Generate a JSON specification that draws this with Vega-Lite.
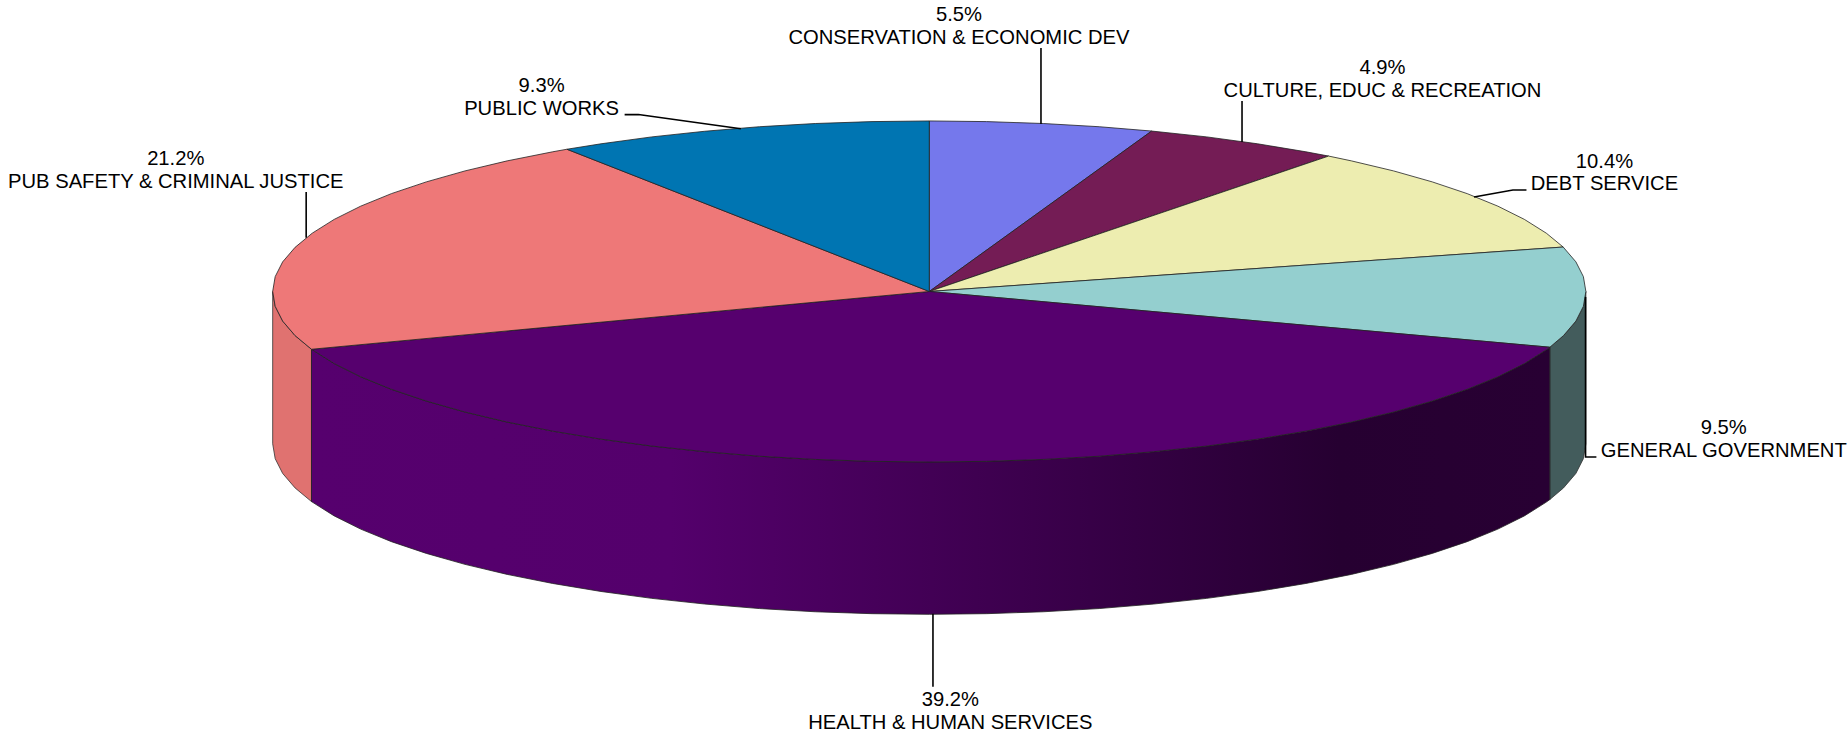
{
"$schema":"https://vega.github.io/schema/vega-lite/v6.json",
"width":1848,"height":736,"padding":0,"autosize":{"type":"none"},
"background":"white",
"config":{"view":{"stroke":null}},
"datasets":{
"sides":[
{"f":"PUB side","x":-94.09,"y":-8.8},{"f":"PUB side","x":-96.59,"y":-6.72},{"f":"PUB side","x":-98.48,"y":-4.51},{"f":"PUB side","x":-99.62,"y":-2.26},{"f":"PUB side","x":-100,"y":0},{"f":"PUB side","x":-100,"y":-23.2},{"f":"PUB side","x":-99.62,"y":-25.46},{"f":"PUB side","x":-98.48,"y":-27.71},{"f":"PUB side","x":-96.59,"y":-29.92},{"f":"PUB side","x":-94.09,"y":-32},{"f":"PUB side","x":-94.09,"y":-8.8},
{"f":"GENERAL side","x":94.51,"y":-8.49},{"f":"GENERAL side","x":96.59,"y":-6.72},{"f":"GENERAL side","x":98.48,"y":-4.51},{"f":"GENERAL side","x":99.62,"y":-2.26},{"f":"GENERAL side","x":100,"y":0},{"f":"GENERAL side","x":100,"y":-23.2},{"f":"GENERAL side","x":99.62,"y":-25.46},{"f":"GENERAL side","x":98.48,"y":-27.71},{"f":"GENERAL side","x":96.59,"y":-29.92},{"f":"GENERAL side","x":94.51,"y":-31.69},{"f":"GENERAL side","x":94.51,"y":-8.49}
],
"front":[
{"x":94.51,"y":-8.49},{"x":93.97,"y":-8.88},{"x":90.63,"y":-10.98},{"x":86.6,"y":-12.99},{"x":81.92,"y":-14.9},{"x":76.6,"y":-16.69},{"x":70.71,"y":-18.36},{"x":64.28,"y":-19.89},{"x":57.36,"y":-21.27},{"x":50,"y":-22.49},{"x":42.26,"y":-23.54},{"x":34.2,"y":-24.4},{"x":25.88,"y":-25.09},{"x":17.36,"y":-25.58},{"x":8.72,"y":-25.87},{"x":0,"y":-25.97},{"x":-8.72,"y":-25.87},{"x":-17.36,"y":-25.58},{"x":-25.88,"y":-25.09},{"x":-34.2,"y":-24.4},{"x":-42.26,"y":-23.54},{"x":-50,"y":-22.49},{"x":-57.36,"y":-21.27},{"x":-64.28,"y":-19.89},{"x":-70.71,"y":-18.36},{"x":-76.6,"y":-16.69},{"x":-81.92,"y":-14.9},{"x":-86.6,"y":-12.99},{"x":-90.63,"y":-10.98},{"x":-94.09,"y":-8.8},
{"x":-94.09,"y":-32},{"x":-90.63,"y":-34.18},{"x":-86.6,"y":-36.19},{"x":-81.92,"y":-38.1},{"x":-76.6,"y":-39.89},{"x":-70.71,"y":-41.56},{"x":-64.28,"y":-43.09},{"x":-57.36,"y":-44.47},{"x":-50,"y":-45.69},{"x":-42.26,"y":-46.74},{"x":-34.2,"y":-47.6},{"x":-25.88,"y":-48.29},{"x":-17.36,"y":-48.78},{"x":-8.72,"y":-49.07},{"x":0,"y":-49.17},{"x":8.72,"y":-49.07},{"x":17.36,"y":-48.78},{"x":25.88,"y":-48.29},{"x":34.2,"y":-47.6},{"x":42.26,"y":-46.74},{"x":50,"y":-45.69},{"x":57.36,"y":-44.47},{"x":64.28,"y":-43.09},{"x":70.71,"y":-41.56},{"x":76.6,"y":-39.89},{"x":81.92,"y":-38.1},{"x":86.6,"y":-36.19},{"x":90.63,"y":-34.18},{"x":93.97,"y":-32.08},{"x":94.51,"y":-31.69},{"x":94.51,"y":-8.49}
],
"tops":[
{"f":"CONSERVATION","x":0,"y":0},{"f":"CONSERVATION","x":0,"y":25.97},{"f":"CONSERVATION","x":8.72,"y":25.87},{"f":"CONSERVATION","x":17.36,"y":25.58},{"f":"CONSERVATION","x":25.88,"y":25.09},{"f":"CONSERVATION","x":33.87,"y":24.43},{"f":"CONSERVATION","x":0,"y":0},
{"f":"CULTURE","x":0,"y":0},{"f":"CULTURE","x":33.87,"y":24.43},{"f":"CULTURE","x":42.26,"y":23.54},{"f":"CULTURE","x":50,"y":22.49},{"f":"CULTURE","x":57.36,"y":21.27},{"f":"CULTURE","x":60.82,"y":20.62},{"f":"CULTURE","x":0,"y":0},
{"f":"DEBT","x":0,"y":0},{"f":"DEBT","x":60.82,"y":20.62},{"f":"DEBT","x":64.28,"y":19.89},{"f":"DEBT","x":70.71,"y":18.36},{"f":"DEBT","x":76.6,"y":16.69},{"f":"DEBT","x":81.92,"y":14.9},{"f":"DEBT","x":86.6,"y":12.99},{"f":"DEBT","x":90.63,"y":10.98},{"f":"DEBT","x":93.97,"y":8.88},{"f":"DEBT","x":96.54,"y":6.77},{"f":"DEBT","x":0,"y":0},
{"f":"GENERAL","x":0,"y":0},{"f":"GENERAL","x":96.54,"y":6.77},{"f":"GENERAL","x":98.48,"y":4.51},{"f":"GENERAL","x":99.62,"y":2.26},{"f":"GENERAL","x":100,"y":0},{"f":"GENERAL","x":99.62,"y":-2.26},{"f":"GENERAL","x":98.48,"y":-4.51},{"f":"GENERAL","x":96.59,"y":-6.72},{"f":"GENERAL","x":94.51,"y":-8.49},{"f":"GENERAL","x":0,"y":0},
{"f":"HEALTH","x":0,"y":0},{"f":"HEALTH","x":94.51,"y":-8.49},{"f":"HEALTH","x":93.97,"y":-8.88},{"f":"HEALTH","x":90.63,"y":-10.98},{"f":"HEALTH","x":86.6,"y":-12.99},{"f":"HEALTH","x":81.92,"y":-14.9},{"f":"HEALTH","x":76.6,"y":-16.69},{"f":"HEALTH","x":70.71,"y":-18.36},{"f":"HEALTH","x":64.28,"y":-19.89},{"f":"HEALTH","x":57.36,"y":-21.27},{"f":"HEALTH","x":50,"y":-22.49},{"f":"HEALTH","x":42.26,"y":-23.54},{"f":"HEALTH","x":34.2,"y":-24.4},{"f":"HEALTH","x":25.88,"y":-25.09},{"f":"HEALTH","x":17.36,"y":-25.58},{"f":"HEALTH","x":8.72,"y":-25.87},{"f":"HEALTH","x":0,"y":-25.97},{"f":"HEALTH","x":-8.72,"y":-25.87},{"f":"HEALTH","x":-17.36,"y":-25.58},{"f":"HEALTH","x":-25.88,"y":-25.09},{"f":"HEALTH","x":-34.2,"y":-24.4},{"f":"HEALTH","x":-42.26,"y":-23.54},{"f":"HEALTH","x":-50,"y":-22.49},{"f":"HEALTH","x":-57.36,"y":-21.27},{"f":"HEALTH","x":-64.28,"y":-19.89},{"f":"HEALTH","x":-70.71,"y":-18.36},{"f":"HEALTH","x":-76.6,"y":-16.69},{"f":"HEALTH","x":-81.92,"y":-14.9},{"f":"HEALTH","x":-86.6,"y":-12.99},{"f":"HEALTH","x":-90.63,"y":-10.98},{"f":"HEALTH","x":-94.09,"y":-8.8},{"f":"HEALTH","x":0,"y":0},
{"f":"PUB","x":0,"y":0},{"f":"PUB","x":-94.09,"y":-8.8},{"f":"PUB","x":-96.59,"y":-6.72},{"f":"PUB","x":-98.48,"y":-4.51},{"f":"PUB","x":-99.62,"y":-2.26},{"f":"PUB","x":-100,"y":0},{"f":"PUB","x":-99.62,"y":2.26},{"f":"PUB","x":-98.48,"y":4.51},{"f":"PUB","x":-96.59,"y":6.72},{"f":"PUB","x":-93.97,"y":8.88},{"f":"PUB","x":-90.63,"y":10.98},{"f":"PUB","x":-86.6,"y":12.99},{"f":"PUB","x":-81.92,"y":14.9},{"f":"PUB","x":-76.6,"y":16.69},{"f":"PUB","x":-70.71,"y":18.36},{"f":"PUB","x":-64.28,"y":19.89},{"f":"PUB","x":-57.36,"y":21.27},{"f":"PUB","x":-55.19,"y":21.66},{"f":"PUB","x":0,"y":0},
{"f":"PUBLIC","x":0,"y":0},{"f":"PUBLIC","x":-55.19,"y":21.66},{"f":"PUBLIC","x":-50,"y":22.49},{"f":"PUBLIC","x":-42.26,"y":23.54},{"f":"PUBLIC","x":-34.2,"y":24.4},{"f":"PUBLIC","x":-25.88,"y":25.09},{"f":"PUBLIC","x":-17.36,"y":25.58},{"f":"PUBLIC","x":-8.72,"y":25.87},{"f":"PUBLIC","x":0,"y":25.97},{"f":"PUBLIC","x":0,"y":0}
],
"leaders":[
{"f":"CONSERVATION","x":17.01,"y":37.08},{"f":"CONSERVATION","x":17.01,"y":25.51},
{"f":"CULTURE","x":47.63,"y":29.01},{"f":"CULTURE","x":47.63,"y":22.77},
{"f":"DEBT","x":90.95,"y":15.46},{"f":"DEBT","x":88.89,"y":15.46},{"f":"DEBT","x":82.96,"y":14.39},
{"f":"GENERAL","x":99.95,"y":-0.85},{"f":"GENERAL","x":99.95,"y":-25.2},{"f":"GENERAL","x":101.6,"y":-25.2},
{"f":"HEALTH","x":0.56,"y":-49.1},{"f":"HEALTH","x":0.56,"y":-60.2},
{"f":"PUBLIC","x":-46.4,"y":26.94},{"f":"PUBLIC","x":-44.3,"y":26.94},{"f":"PUBLIC","x":-28.7,"y":24.79},
{"f":"PUB","x":-94.9,"y":15.15},{"f":"PUB","x":-94.9,"y":8.2}
],
"labels":[
{"name":"CONSERVATION & ECONOMIC DEV","pct":"5.5%","x":4.52,"y":38.65},
{"name":"CULTURE, EDUC & RECREATION","pct":"4.9%","x":69.02,"y":30.6},
{"name":"DEBT SERVICE","pct":"10.4%","x":102.83,"y":16.32},
{"name":"GENERAL GOVERNMENT","pct":"9.5%","x":121.0,"y":-24.3},
{"name":"HEALTH & HUMAN SERVICES","pct":"39.2%","x":3.2,"y":-65.68},
{"name":"PUB SAFETY & CRIMINAL JUSTICE","pct":"21.2%","x":-114.76,"y":16.71},
{"name":"PUBLIC WORKS","pct":"9.3%","x":-59.05,"y":27.83}
]
},
"encoding":{
"x":{"field":"x","type":"quantitative","scale":{"domain":[-141.53,139.92],"nice":false,"zero":false},"axis":null},
"y":{"field":"y","type":"quantitative","scale":{"domain":[-67.7,44.39],"nice":false,"zero":false},"axis":null}
},
"layer":[
{"data":{"name":"sides"},
"transform":[{"window":[{"op":"row_number","as":"i"}]}],
"mark":{"type":"line","filled":true,"stroke":"#333","strokeWidth":0.8},
"encoding":{"order":{"field":"i","type":"quantitative"},"fill":{"field":"f","type":"nominal","legend":null,"scale":{"domain":["PUB side","GENERAL side","CONSERVATION","CULTURE","DEBT","GENERAL","HEALTH","PUB","PUBLIC"],"range":["#E07270","#435C5C","#7578EC","#741C55","#EDEDB0","#94CFCF","#56006E","#EE7878","#0075B2"]}}}},
{"data":{"name":"front"},
"transform":[{"window":[{"op":"row_number","as":"i"}]}],
"mark":{"type":"line","filled":true,"stroke":"#222","strokeWidth":0.8,
"fill":{"gradient":"linear","x1":0,"y1":0,"x2":1,"y2":0,"stops":[{"offset":0,"color":"#56006E"},{"offset":0.29,"color":"#54006C"},{"offset":0.83,"color":"#260031"},{"offset":1,"color":"#280033"}]}},
"encoding":{"order":{"field":"i","type":"quantitative"}}},
{"data":{"name":"tops"},
"transform":[{"window":[{"op":"row_number","as":"i"}]}],
"mark":{"type":"line","filled":true,"stroke":"#222","strokeWidth":0.8},
"encoding":{"order":{"field":"i","type":"quantitative"},"fill":{"field":"f","type":"nominal","legend":null}}},
{"data":{"name":"leaders"},
"transform":[{"window":[{"op":"row_number","as":"i"}]}],
"mark":{"type":"line","stroke":"#000","strokeWidth":1.6},
"encoding":{"order":{"field":"i","type":"quantitative"},"detail":{"field":"f"}}},
{"data":{"name":"labels"},
"mark":{"type":"text","font":"Liberation Sans","fontSize":20.2,"fill":"#000","baseline":"middle","align":"center"},
"encoding":{"text":{"field":"name"}}},
{"data":{"name":"labels"},
"mark":{"type":"text","font":"Liberation Sans","fontSize":20.2,"fill":"#000","baseline":"middle","align":"center","dy":-22.6},
"encoding":{"text":{"field":"pct"}}}
]
}
